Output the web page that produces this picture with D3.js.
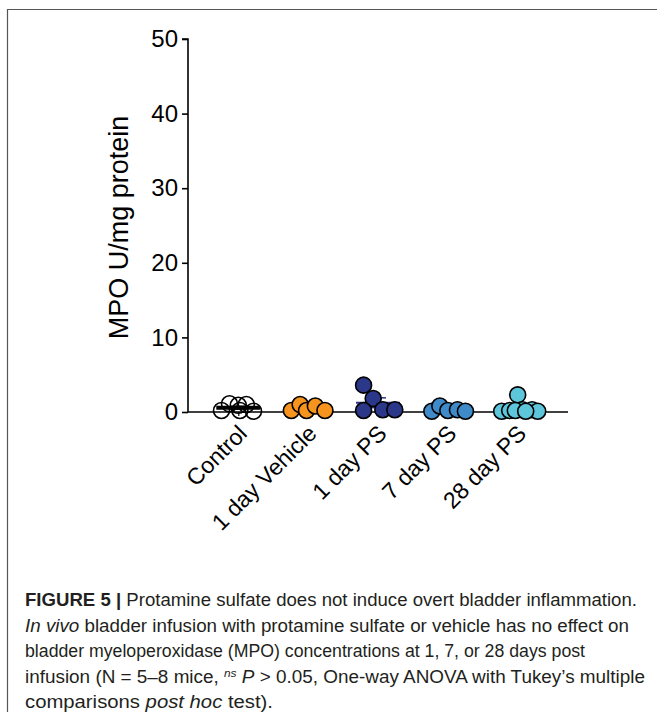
<!DOCTYPE html>
<html>
<head>
<meta charset="utf-8">
<script src="https://cdn.jsdelivr.net/npm/d3@7"></script>
<style>
  body { margin: 0; background: #fff; }
  svg { display: block; }
  text { font-family: "Liberation Sans", Arial, sans-serif; }
  .caption { font-size: 17.5px; fill: #231f20; }
</style>
</head>
<body>
<div id="chart"></div>
<script>
const groups = ['Control', '1 day Vehicle', '1 day PS', '7 day PS', '28 day PS'];
const colors = ['#ffffff', '#f7941d', '#2b3788', '#3f8ac8', '#5ec6da'];

// MPO values per mouse
const controlVals = [0.2, 1.1, 0.9, 1.0, 0.1, 0.2];
const vehicleVals = [0.2, 1.0, 0.2, 0.8, 0.2];
const ps1Vals = [3.6, 1.8, 0.2, 0.3, 0.3];
const ps7Vals = [0.1, 0.8, 0.2, 0.3, 0.1];
const ps28Vals = [2.3, 0.1, 0.2, 0.3, 0.3, 0.1, 0.2, 0.1];
// horizontal jitter of each dot, in units of the dot radius
const controlJit = [-2.1, -1.1, 0, 1.0, 1.9, 0.2];
const vehicleJit = [-2.1, -1.0, -0.2, 0.9, 2.1];
const ps1Jit = [-1.8, -0.6, -1.8, 0.6, 2.1];
const ps7Jit = [-2.0, -1.0, 0, 1.2, 2.2];
const ps28Jit = [0, -2.0, -1.0, 0.6, 1.8, 2.5, -0.3, 1.0];

const allVals = [controlVals, vehicleVals, ps1Vals, ps7Vals, ps28Vals];
const allJit = [controlJit, vehicleJit, ps1Jit, ps7Jit, ps28Jit];
const yTicks = [0, 10, 20, 30, 40, 50];

const W = 657, H = 712;
const R = 8;

const svg = d3.select('#chart').append('svg')
    .attr('width', W)
    .attr('height', H);

// figure frame
svg.append('path')
    .attr('d', `M${W + 5},9.5 H7.5 V${H + 5}`)
    .attr('fill', 'none')
    .attr('stroke', '#555')
    .attr('stroke-width', 1.2);

const x = d3.scalePoint()
    .domain(groups)
    .range([188, 568])
    .padding(0.72);

const y = d3.scaleLinear()
    .domain([0, 50])
    .range([412, 39]);

const g = svg.append('g');

// y axis
const yAxis = g.append('g')
    .attr('transform', 'translate(188,0)')
    .call(d3.axisLeft(y).tickValues(yTicks).tickSize(6).tickPadding(4));
yAxis.select('.domain').attr('stroke-width', 1.6).attr('d', `M-6,${y(50)}H0V${y(0)}`);
yAxis.selectAll('.tick line').attr('stroke-width', 1.6);
yAxis.selectAll('.tick text')
    .attr('font-size', 24)
    .attr('fill', '#000')
    .attr('font-family', '"Liberation Sans", Arial, sans-serif');

// x axis
const xAxis = g.append('g')
    .attr('transform', `translate(0,${y(0)})`)
    .call(d3.axisBottom(x).tickSize(4).tickFormat(''));
xAxis.select('.domain').attr('stroke-width', 1.6).attr('d', 'M188,0H568');
xAxis.selectAll('.tick line').attr('stroke-width', 1.2);

g.selectAll('text.xlab')
    .data(groups)
    .join('text')
    .attr('class', 'xlab')
    .attr('text-anchor', 'end')
    .attr('font-size', 23)
    .attr('transform', d => `translate(${x(d) + 10},${y(0) + 23}) rotate(-45)`)
    .text(d => d);

svg.append('text')
    .attr('text-anchor', 'middle')
    .attr('font-size', 27)
    .attr('transform', `translate(128,${y(25) + 2}) rotate(-90)`)
    .text('MPO U/mg protein');

// mean and SEM bars, behind the dots
groups.forEach((grp, i) => {
    const vals = allVals[i];
    const m = d3.mean(vals);
    const sem = d3.deviation(vals) / Math.sqrt(vals.length);
    const cx = x(grp);
    const col = i === 0 ? '#000' : colors[i];
    const bar = g.append('g');
    bar.append('line')
        .attr('x1', cx - 22).attr('x2', cx + 22)
        .attr('y1', y(m)).attr('y2', y(m))
        .attr('stroke', col).attr('stroke-width', i === 0 ? 4 : 2);
    bar.append('line')
        .attr('x1', cx).attr('x2', cx)
        .attr('y1', y(m - sem)).attr('y2', y(m + sem))
        .attr('stroke', col).attr('stroke-width', 1.5);
    [m - sem, m + sem].forEach(v => {
        bar.append('line')
            .attr('x1', cx - 8).attr('x2', cx + 8)
            .attr('y1', y(v)).attr('y2', y(v))
            .attr('stroke', col).attr('stroke-width', 1.5);
    });
});

groups.forEach((grp, i) => {
    g.append('g')
        .selectAll('circle')
        .data(allVals[i].map((v, k) => ({ v, j: allJit[i][k] })))
        .join('circle')
        .attr('cx', d => x(grp) + d.j * R)
        .attr('cy', d => y(d.v))
        .attr('r', R)
        .attr('fill', colors[i])
        .attr('fill-opacity', i === 0 ? 0 : 1)
        .attr('stroke', '#000')
        .attr('stroke-width', 1.6);
});

// caption
const capLines = [
    [{ t: 'FIGURE 5 | ', b: true }, { t: 'Protamine sulfate does not induce overt bladder inflammation.' }],
    [{ t: 'In vivo', i: true }, { t: ' bladder infusion with protamine sulfate or vehicle has no effect on' }],
    [{ t: 'bladder myeloperoxidase (MPO) concentrations at 1, 7, or 28 days post' }],
    [{ t: 'infusion (N = 5–8 mice, ' }, { t: 'ns', i: true, sup: true }, { t: ' ' }, { t: 'P', i: true }, { t: ' > 0.05, One-way ANOVA with Tukey’s multiple' }],
    [{ t: 'comparisons ' }, { t: 'post hoc', i: true }, { t: ' test).' }]
];
const capWidths = [612, 604, 560, 620, 248];

capLines.forEach((parts, li) => {
    const t = svg.append('text')
        .attr('class', 'caption')
        .attr('x', 25)
        .attr('y', 606 + li * 25.5)
        .attr('textLength', capWidths[li])
        .attr('lengthAdjust', 'spacingAndGlyphs');
    parts.forEach(p => {
        const ts = t.append('tspan').text(p.t);
        if (p.b) ts.attr('font-weight', 'bold');
        if (p.i) ts.attr('font-style', 'italic');
        if (p.sup) ts.attr('font-size', 11).attr('dy', -6);
        else if (li === 3 && p.t === ' ') ts.attr('dy', 6);
    });
});
</script>
</body>
</html>
